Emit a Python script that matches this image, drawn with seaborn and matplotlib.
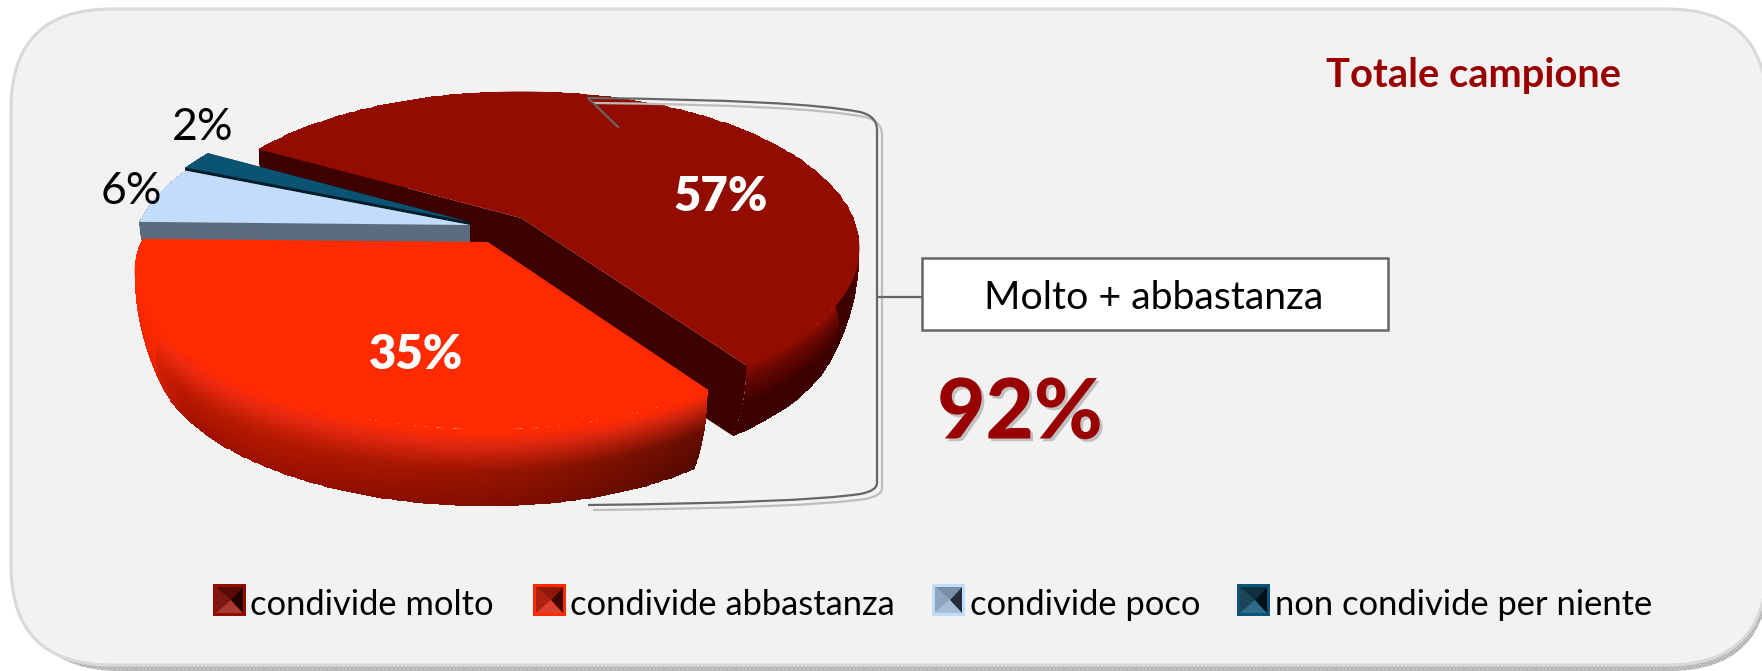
import matplotlib.pyplot as plt
import matplotlib.patheffects as pe
import numpy as np
import seaborn as sns
from matplotlib.colors import to_rgb
from matplotlib.patches import FancyBboxPatch, PathPatch, Polygon, Rectangle
from matplotlib.path import Path

categories = ['condivide molto', 'condivide abbastanza', 'condivide poco', 'non condivide per niente']
values = [57, 35, 6, 2]
title = 'Totale campione'
box_label = 'Molto + abbastanza'

face_colors = ['#920d00', '#ff2a00', '#c2dcfb', '#0a5373']
wall_colors = ['#3d0000', '#b81500', '#5d6b7e', '#021c28']
side_stops = [
    ['#920d00', '#6a0700', '#3d0000', '#3d0000'],
    ['#ff2a00', '#f02a10', '#c41a00', '#a81200'],
    ['#5d6b7e', '#5d6b7e', '#5d6b7e', '#5d6b7e'],
    ['#0a5373', '#021c28', '#021c28', '#021c28'],
]
swatch_colors = [
    ['#920d00', '#7a1a10', '#5a0a05', '#a83a30', '#200000'],
    ['#ff2a00', '#b02010', '#901808', '#d84030', '#400800'],
    ['#c0dcff', '#8fa5bf', '#7a8ea8', '#a8bcd4', '#252d38'],
    ['#0a5578', '#1c4558', '#0e3040', '#2f6b88', '#02101a'],
]

sns.set_theme(style='white')
plt.rcParams['font.family'] = ['Lato', 'DejaVu Sans']

fig = plt.figure(figsize=(17.62, 6.71), dpi=100)
ax = fig.add_axes([0, 0, 1, 1])
ax.set_axis_off()

# rounded panel with its dithered shadow
shadow = FancyBboxPatch((20, 15), 1749, 656, boxstyle='round,pad=0,rounding_size=100', facecolor='#d2d2d2',
                        edgecolor='#b5b5b5', hatch='xxxxxxxx', linewidth=0, zorder=0)
ax.add_patch(shadow)
panel = FancyBboxPatch((11, 9), 1756, 656, boxstyle='round,pad=0,rounding_size=100', facecolor='#f2f2f2',
                       edgecolor='#d9d9d9', linewidth=2.2, zorder=0.5)
ax.add_patch(panel)

# pie projected with perspective, the near side looks bigger
RX, RY, K, DEPTH, TAPER = 332, 151, 0.194, 88, 0.06
START = 150.0
centers = [(521, 218), (488, 242), (470, 225), (470, 222)]
skews = [0.0, 0.045, 0.0, 0.0]
depth_scale = [0.9, 1.0, 0.62, 0.62]


def project(theta, cx, cy, skew=0.0):
    rad = np.radians(theta)
    u, v = np.cos(rad), np.sin(rad)
    s = 1 / (1 + K * v)
    return cx + (1 - skew * u) * RX * u * s, cy - RY * v * s


def extrude(x, y, cx, cy, d, depth):
    # point of the side wall at relative depth d, the base is a bit smaller than the top
    shrink = 1 - TAPER * d ** 2
    return cx + (x - cx) * shrink, cy + (y - cy) * shrink + d * depth


sweep = np.array(values) / sum(values) * 360
ends = START - np.cumsum(sweep)
starts = ends + sweep
z = 2
for i in [0, 3, 2, 1]:
    cx, cy = centers[i]
    depth = DEPTH * depth_scale[i]
    thetas = np.linspace(starts[i], ends[i], 160)
    xs, ys = project(thetas, cx, cy, skews[i])

    # side of the slice
    d = np.linspace(0, 1, 60)
    X, Y = extrude(xs[None, :], ys[None, :], cx, cy, d[:, None], depth)
    stops = np.array([to_rgb(c) for c in side_stops[i]])
    mid_d = (d[:-1] + d[1:]) / 2
    ramp = np.stack([np.interp(mid_d, [0, 0.18, 0.55, 1], stops[:, c]) for c in range(3)], axis=1)
    C = np.repeat(ramp[:, None, :], len(xs) - 1, axis=1)
    if i == 1:
        # along runs from the left end of the slice to its right end: dark on the right, bright on the left
        along = np.linspace(1, 0, len(xs) - 1)
        fade = np.interp(along, [0, 0.45, 0.75, 1], [1, 0.92, 0.75, 0.5])
        lift = np.interp(mid_d, [0, 0.06, 0.5], [1, 1, 0])
        C = C * (lift[:, None] + (1 - lift[:, None]) * fade[None, :])[:, :, None]
        bright = np.interp(along, [0, 0.12, 0.3], [1, 0.8, 0])[None, :, None]
        C = C * (1 - bright) + np.array(to_rgb(face_colors[1])) * bright
    ax.pcolormesh(X, Y, C, shading='flat', zorder=z)
    z += 1

    # cut walls, the front slice hides its own
    if i != 1:
        for t in (starts[i], ends[i]):
            px, py = project(t, cx, cy, skews[i])
            bx, by = extrude(px, py, cx, cy, d, depth)
            outline = np.r_[[(cx, cy)], np.column_stack([bx, by]), [(cx, cy + depth)]]
            ax.add_patch(Polygon(outline, closed=True, facecolor=wall_colors[i], edgecolor='none', zorder=z))
            z += 1

    ax.add_patch(Polygon(np.column_stack([np.r_[cx, xs], np.r_[cy, ys]]), closed=True,
                         facecolor=face_colors[i], edgecolor='none', zorder=z))
    z += 1

TOP = 100
label_pos = [(721, 197), (416, 355), (131, 192), (203, 127)]
for i, val in enumerate(values):
    inside = i < 2
    ax.text(label_pos[i][0], label_pos[i][1], f'{val}%', ha='center', va='center',
            fontsize=34 if inside else 32, color='white' if inside else 'black',
            fontweight='heavy' if inside else 'normal', zorder=TOP)

# bracket joining the two top slices
verts = [(588, 98), (800, 100), (860, 112), (877, 116), (877, 130), (877, 483), (877, 491), (860, 494), (800, 503),
         (588, 505)]
codes = [Path.MOVETO, Path.CURVE3, Path.CURVE3, Path.CURVE3, Path.CURVE3, Path.LINETO, Path.CURVE3, Path.CURVE3,
         Path.CURVE3, Path.CURVE3]
for off, col in [(5, '#bdbdbd'), (0, '#666666')]:
    shifted = [(x + off, y + off) for x, y in verts]
    ax.add_patch(PathPatch(Path(shifted, codes), facecolor='none', edgecolor=col, linewidth=1.6, zorder=TOP - 2))
ax.plot([588, 618], [98, 127], color='#666666', linewidth=1.6, zorder=TOP - 2)
ax.plot([877, 922], [297, 297], color='#666666', linewidth=1.6, zorder=TOP - 2)

ax.add_patch(Rectangle((922, 258), 466, 72, facecolor='white', edgecolor='#666666', linewidth=1.8, zorder=TOP - 1))
ax.text(1154, 298, box_label, ha='center', va='center', fontsize=28.3, color='black', zorder=TOP)

total = values[0] + values[1]
ax.text(1020, 414, f'{total}%', ha='center', va='center', fontsize=60, color='#990000', fontweight='black',
        zorder=TOP, path_effects=[pe.withSimplePatchShadow(offset=(2, -2), shadow_rgbFace='#c0c0c0', alpha=1)])

ax.text(1473, 75, title, ha='center', va='center', fontsize=28.7, color='#990000', fontweight='bold', zorder=TOP)

# legend, each key is a small bevelled square
key_x = [213, 533, 932, 1237]
text_x = [250, 570, 970, 1275]
for i, name in enumerate(categories):
    x0, x1, y0, y1 = key_x[i], key_x[i] + 33, 584, 616
    border, left, upper, lower, right = swatch_colors[i]
    ax.add_patch(Rectangle((x0, y0), x1 - x0, y1 - y0, facecolor=border, edgecolor='none', zorder=TOP - 1))
    ix0, ix1, iy0, iy1 = x0 + 3, x1 - 3, y0 + 3, y1 - 3
    apex = (x0 + 18, (y0 + y1) / 2)
    tris = [((ix0, iy0), (ix0, iy1), left), ((ix0, iy0), (ix1, iy0), upper), ((ix0, iy1), (ix1, iy1), lower),
            ((ix1, iy0), (ix1, iy1), right)]
    for p, q, col in tris:
        ax.add_patch(Polygon([p, q, apex], closed=True, facecolor=col, edgecolor='none', zorder=TOP))
    ax.text(text_x[i], 605, name, ha='left', va='center', fontsize=24.8, color='black', zorder=TOP)

ax.set_xlim(0, 1762)
ax.set_ylim(671, 0)
fig.savefig('out.png', dpi=100, facecolor='white')
